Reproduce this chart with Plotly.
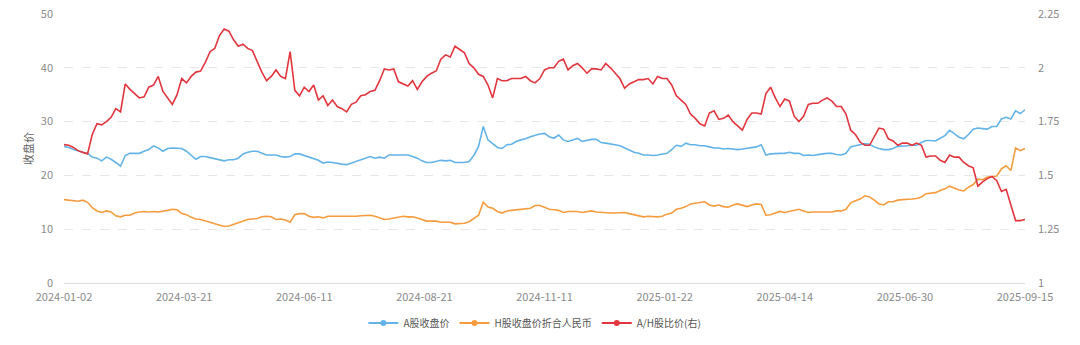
import plotly.graph_objects as go

# Trading-day axis: 409 trading days from 2024-01-02 to 2025-09-15, labels every 51 days
tick_labels = ["2024-01-02", "2024-03-21", "2024-06-11", "2024-08-21", "2024-11-11",
               "2025-01-22", "2025-04-14", "2025-06-30", "2025-09-15"]
label_step = 51
tick_pos = [k * label_step for k in range(len(tick_labels))]

# values sampled every second trading day
day_index = list(range(0, 409, 2))

a_close = [
    25.4, 25.2, 24.8, 24.5, 24.3, 24.1, 23.4, 23.2, 22.7, 23.4,
    23.0, 22.4, 21.7, 23.7, 24.1, 24.1, 24.1, 24.5, 24.8, 25.5,
    25.1, 24.5, 25.0, 25.1, 25.1, 25.0, 24.5, 23.7, 23.0, 23.5,
    23.5, 23.3, 23.1, 22.9, 22.7, 22.9, 22.9, 23.2, 24.0, 24.3,
    24.5, 24.5, 24.1, 23.8, 23.8, 23.8, 23.5, 23.4, 23.5, 24.0,
    24.0, 23.7, 23.4, 23.1, 22.8, 22.3, 22.5, 22.4, 22.2, 22.1,
    22.0, 22.3, 22.6, 22.8, 23.2, 23.5, 23.2, 23.4, 23.2, 23.8,
    23.8, 23.8, 23.7, 23.8, 23.5, 23.2, 22.7, 22.4, 22.4, 22.6,
    22.8, 22.7, 22.8, 22.4, 22.4, 22.4, 22.6, 23.7, 25.4, 29.1,
    26.6, 25.9, 25.2, 25.0, 25.7, 25.8, 26.3, 26.6, 26.8, 27.2,
    27.5, 27.7, 27.8, 27.2, 26.9, 27.5, 26.6, 26.3, 26.6, 26.9,
    26.3, 26.5, 26.7, 26.7, 26.1, 26.0, 25.9, 25.7, 25.5, 25.1,
    24.8, 24.3, 24.1, 23.8, 23.8, 23.7, 23.8, 23.9, 24.1, 24.8,
    25.6, 25.4, 26.0, 25.7, 25.7, 25.5, 25.5, 25.3, 25.1, 25.1,
    24.9, 25.0, 24.9, 24.8, 24.9, 25.0, 25.1, 25.3, 25.7, 23.8,
    24.0, 24.1, 24.1, 24.1, 24.3, 24.1, 24.1, 23.7, 23.8, 23.7,
    23.9, 24.0, 24.1, 24.1, 23.9, 23.8, 24.1, 25.3, 25.5, 25.7,
    25.9, 25.8, 25.3, 25.0, 24.8, 24.8, 25.0, 25.4, 25.4, 25.5,
    25.6, 25.6, 26.1, 26.5, 26.5, 26.4, 26.9, 27.4, 28.4, 27.7,
    27.1, 26.8, 27.6, 28.6, 28.8, 28.7, 28.6, 29.1, 29.1, 30.5,
    30.8, 30.5, 32.0, 31.5, 32.2,
]

h_close_rmb = [
    15.5, 15.4, 15.2, 15.2, 15.4, 15.0, 14.0, 13.4, 13.1, 13.4,
    13.2, 12.5, 12.3, 12.6, 12.6, 13.0, 13.2, 13.3, 13.2, 13.3,
    13.2, 13.3, 13.5, 13.7, 13.6, 12.9, 12.7, 12.2, 11.9, 11.8,
    11.6, 11.3, 11.0, 10.7, 10.5, 10.6, 10.9, 11.1, 11.5, 11.8,
    11.9, 12.0, 12.3, 12.4, 12.3, 11.8, 11.9, 11.7, 11.3, 12.7,
    12.9, 12.9, 12.4, 12.2, 12.3, 12.1, 12.4, 12.4, 12.3, 12.4,
    12.4, 12.3, 12.4, 12.5, 12.5, 12.6, 12.4, 12.1, 11.8, 11.9,
    12.1, 12.2, 12.4, 12.3, 12.3, 12.1, 11.8, 11.5, 11.5, 11.5,
    11.3, 11.3, 11.3, 11.0, 11.0, 11.1, 11.4, 12.0, 12.6, 15.0,
    14.1, 13.9, 13.3, 13.0, 13.4, 13.5, 13.6, 13.6, 13.8, 13.9,
    14.4, 14.4, 14.1, 13.7, 13.6, 13.5, 13.1, 13.3, 13.3, 13.3,
    13.1, 13.3, 13.4, 13.2, 13.1, 13.1, 13.0, 13.0, 13.1, 13.1,
    12.9, 12.7, 12.4, 12.3, 12.4, 12.3, 12.3, 12.4, 12.8, 13.0,
    13.7, 13.9, 14.2, 14.7, 14.8, 14.9, 15.1, 14.5, 14.3, 14.5,
    14.2, 14.1, 14.5, 14.7, 14.5, 14.2, 14.5, 14.7, 14.6, 12.6,
    12.7, 13.0, 13.3, 13.1, 13.3, 13.6, 13.7, 13.4, 13.1, 13.2,
    13.2, 13.2, 13.1, 13.2, 13.4, 13.4, 13.7, 14.9, 15.3, 15.6,
    16.2, 16.0, 15.4, 14.7, 14.5, 15.1, 15.1, 15.4, 15.5, 15.5,
    15.6, 15.7, 16.0, 16.6, 16.7, 16.8, 17.2, 17.5, 18.0, 17.6,
    17.3, 17.1, 17.8, 18.3, 19.3, 19.2, 19.7, 19.8, 19.9, 21.2,
    21.8, 20.9, 25.1, 24.6, 25.0,
]

ah_ratio = [
    1.643, 1.64, 1.63, 1.615, 1.607, 1.60, 1.69, 1.74, 1.735, 1.75,
    1.77, 1.81, 1.795, 1.925, 1.90, 1.88, 1.86, 1.865, 1.91, 1.92,
    1.96, 1.89, 1.86, 1.83, 1.875, 1.95, 1.93, 1.96, 1.98, 1.985,
    2.025, 2.075, 2.09, 2.15, 2.18, 2.17, 2.13, 2.10, 2.11, 2.09,
    2.08, 2.03, 1.98, 1.94, 1.96, 1.99, 1.96, 1.95, 2.075, 1.895,
    1.87, 1.91, 1.89, 1.92, 1.85, 1.87, 1.825, 1.85, 1.82, 1.81,
    1.795, 1.83, 1.84, 1.87, 1.875, 1.89, 1.895, 1.94, 1.995, 1.99,
    1.995, 1.935, 1.925, 1.915, 1.94, 1.90, 1.935, 1.96, 1.975, 1.985,
    2.04, 2.06, 2.05, 2.10, 2.085, 2.07, 2.02, 2.00, 1.97, 1.96,
    1.92, 1.86, 1.95, 1.94, 1.94, 1.95, 1.95, 1.95, 1.96, 1.94,
    1.93, 1.95, 1.99, 2.00, 2.00, 2.03, 2.04, 1.99, 2.01, 2.02,
    2.00, 1.975, 1.995, 1.995, 1.99, 2.02, 2.00, 1.975, 1.95, 1.905,
    1.925, 1.935, 1.945, 1.945, 1.95, 1.925, 1.96, 1.95, 1.95, 1.92,
    1.87, 1.85, 1.83, 1.785, 1.765, 1.74, 1.73, 1.79, 1.80, 1.76,
    1.765, 1.78, 1.75, 1.73, 1.71, 1.76, 1.79, 1.79, 1.785, 1.88,
    1.91, 1.86, 1.82, 1.855, 1.845, 1.775, 1.75, 1.775, 1.83, 1.835,
    1.835, 1.85, 1.86, 1.845, 1.82, 1.82, 1.785, 1.71, 1.69, 1.655,
    1.64, 1.64, 1.68, 1.72, 1.715, 1.67, 1.66, 1.64, 1.65, 1.65,
    1.64, 1.65, 1.64, 1.585, 1.59, 1.59, 1.57, 1.56, 1.595, 1.585,
    1.585, 1.56, 1.545, 1.535, 1.45, 1.47, 1.485, 1.495, 1.475, 1.425,
    1.435, 1.365, 1.29, 1.29, 1.295,
]

left_ticks = [0, 10, 20, 30, 40, 50]
right_ticks = [1, 1.25, 1.5, 1.75, 2, 2.25]
right_tick_text = ["1", "1.25", "1.5", "1.75", "2", "2.25"]

series_names = ["A股收盘价", "H股收盘价折合人民币", "A/H股比价(右)"]
colors = ["#63B3E8", "#F59C3E", "#E2363F"]

FONT = "Noto Sans CJK SC, Open Sans, sans-serif"

fig = go.Figure()
data = [(a_close, "y"), (h_close_rmb, "y"), (ah_ratio, "y2")]
for (vals, yax), name, col in zip(data, series_names, colors):
    fig.add_trace(go.Scatter(x=day_index, y=vals, yaxis=yax, mode="lines",
                             line=dict(color=col, width=1.6), name=name,
                             showlegend=False, hoverinfo="x+y"))
# legend entries (line with circle marker, as in the reference)
for (vals, yax), name, col in zip(data, series_names, colors):
    fig.add_trace(go.Scatter(x=[None], y=[None], yaxis=yax, mode="lines+markers",
                             line=dict(color=col, width=2),
                             marker=dict(color=col, size=6, symbol="circle"),
                             name=name, showlegend=True))

fig.update_layout(
    width=1080, height=345,
    margin=dict(l=64, r=55, t=14, b=62, autoexpand=False),
    paper_bgcolor="white", plot_bgcolor="white",
    font=dict(family=FONT, size=11, color="#8a8a8a"),
    xaxis=dict(
        range=[0, 408], tickvals=tick_pos, ticktext=tick_labels,
        showgrid=False, zeroline=False, showline=True, linecolor="#dcdcdc",
        linewidth=1, ticks="", ticklabelstandoff=4,
        tickfont=dict(size=11, color="#8a8a8a"),
    ),
    yaxis=dict(
        range=[0, 50], tickvals=left_ticks, showgrid=True, gridcolor="#e6e6e6",
        griddash="dash", gridwidth=1, zeroline=False, showline=False, ticks="",
        ticklabelstandoff=10,
        tickfont=dict(size=11, color="#8a8a8a"),
        title=dict(text="收盘价", font=dict(size=11, color="#666666"), standoff=4),
    ),
    yaxis2=dict(
        range=[1, 2.25], tickvals=right_ticks, ticktext=right_tick_text,
        overlaying="y", side="right", showgrid=False, zeroline=False,
        showline=False, ticks="", ticklabelstandoff=12,
        tickfont=dict(size=11, color="#8a8a8a"),
    ),
    legend=dict(orientation="h", x=0.49, xanchor="center", y=-0.149, yanchor="middle",
                font=dict(size=10, color="#555555"), itemwidth=30,
                bgcolor="rgba(0,0,0,0)"),
    showlegend=True,
)

fig.write_html("out.html")
